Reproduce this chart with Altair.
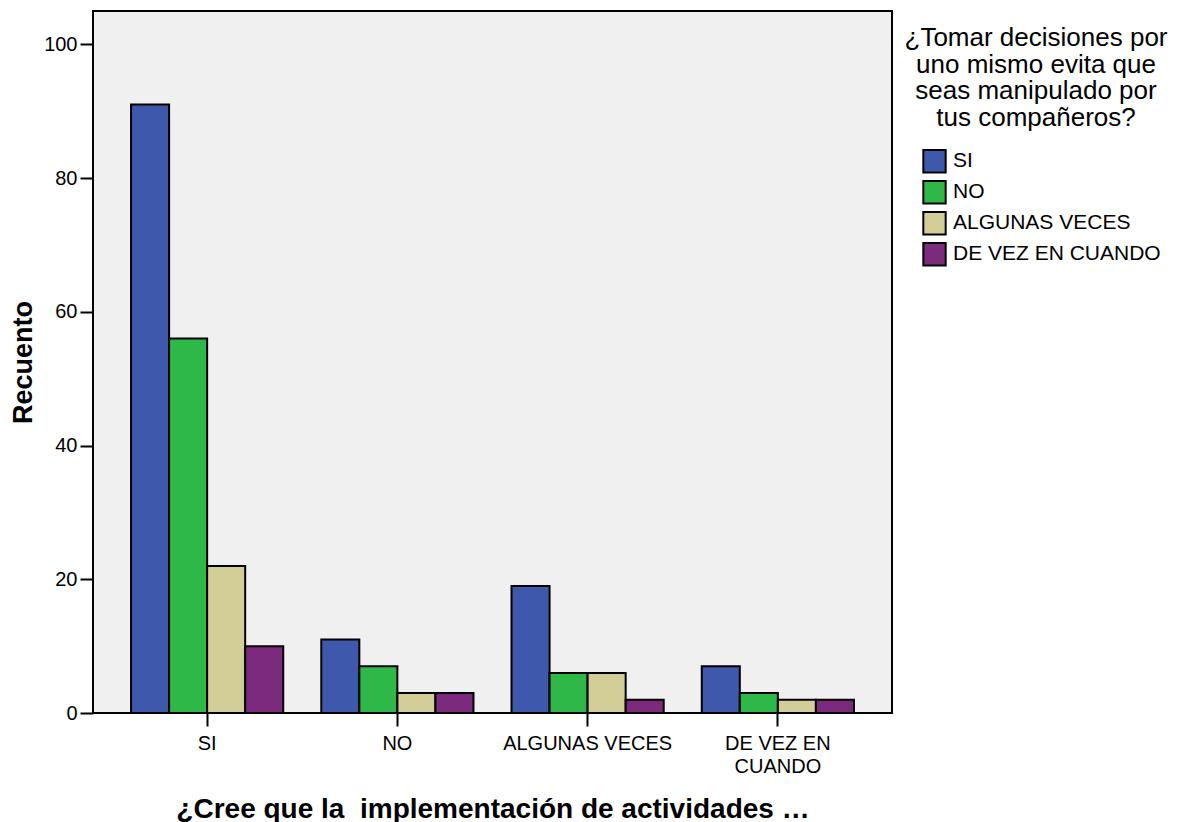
import altair as alt
import pandas as pd

groups = ["SI", "NO", "ALGUNAS VECES", "DE VEZ EN CUANDO"]
series = ["SI", "NO", "ALGUNAS VECES", "DE VEZ EN CUANDO"]
values = {
    "SI": [91, 56, 22, 10],
    "NO": [11, 7, 3, 3],
    "ALGUNAS VECES": [19, 6, 6, 2],
    "DE VEZ EN CUANDO": [7, 3, 2, 2],
}
colors = ["#3e58ac", "#2eb848", "#d3ce97", "#7b2a7d"]

rows = []
for g in groups:
    for s, v in zip(series, values[g]):
        rows.append({"grupo": g, "serie": s, "Recuento": v})
df = pd.DataFrame(rows)

FONT = "Liberation Sans"

chart = alt.Chart(df).mark_bar(stroke="black", strokeWidth=2).encode(
    x=alt.X(
        "grupo:N",
        sort=groups,
        scale=alt.Scale(paddingInner=0.2, paddingOuter=0.2),
        axis=alt.Axis(
            title="¿Cree que la\u00a0 implementación de actividades …",
            labelAngle=0,
            labelFontSize=20,
            labelFont=FONT,
            labelColor="black",
            labelPadding=7,
            labelExpr="datum.label == 'DE VEZ EN CUANDO' ? ['DE VEZ EN', 'CUANDO'] : datum.label",
            labelLineHeight=23,
            labelLimit=400,
            tickSize=13,
            tickWidth=2,
            tickColor="black",
            domain=False,
            titleFontSize=28,
            titleFont=FONT,
            titleFontWeight="bold",
            titleColor="black",
            titlePadding=19,
        ),
    ),
    xOffset=alt.XOffset("serie:N", sort=series, scale=alt.Scale(paddingInner=0, paddingOuter=0)),
    y=alt.Y(
        "Recuento:Q",
        scale=alt.Scale(domain=[0, 105], nice=False),
        axis=alt.Axis(
            title="Recuento",
            values=[0, 20, 40, 60, 80, 100],
            grid=False,
            domain=False,
            labelFontSize=20,
            labelFont=FONT,
            labelColor="black",
            labelPadding=3,
            tickSize=13,
            tickWidth=2,
            tickColor="black",
            titleFontSize=27,
            titleFont=FONT,
            titleFontWeight="bold",
            titleColor="black",
            titlePadding=6,
        ),
    ),
    color=alt.Color(
        "serie:N",
        sort=series,
        scale=alt.Scale(domain=series, range=colors),
        legend=alt.Legend(
            title=["¿Tomar decisiones por", "uno mismo evita que", "seas manipulado por", "tus compañeros?"],
            orient="none",
            legendX=812,
            legendY=14,
            titleFontSize=26,
            titleFont=FONT,
            titleFontWeight="normal",
            titleColor="black",
            titleAlign="center",
            titleAnchor="middle",
            titleLineHeight=26.6,
            titlePadding=18,
            titleLimit=500,
            labelFontSize=21,
            labelFont=FONT,
            labelColor="black",
            labelOffset=6,
            labelLimit=400,
            symbolType="square",
            symbolSize=500,
            symbolStrokeColor="black",
            symbolStrokeWidth=2,
            symbolOpacity=1,
            symbolOffset=11,
            rowPadding=0,
        ),
    ),
).properties(
    width=799,
    height=702,
    background="white",
    autosize=alt.AutoSizeParams(type="none"),
    padding={"left": 85, "top": 3, "right": 284, "bottom": 120},
).configure_view(
    fill="#f0f0f0",
    stroke="black",
    strokeWidth=2,
)

chart.save("out.html", embed_options={"renderer": "svg", "actions": False})
